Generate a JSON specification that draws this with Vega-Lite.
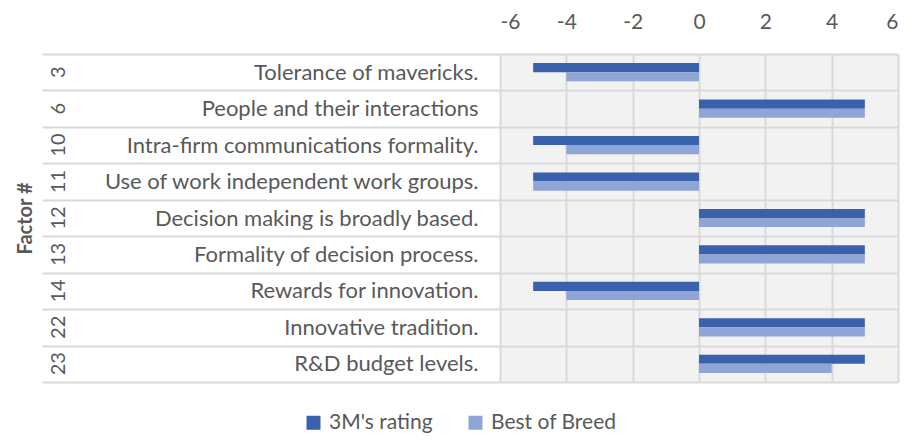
{
  "$schema": "https://vega.github.io/schema/vega-lite/v6.json",
  "width": 398,
  "height": 328,
  "autosize": {"type": "none"},
  "padding": {"left": 500, "top": 54, "right": 13, "bottom": 62},
  "background": "white",
  "config": {
    "font": "Lato",
    "view": {"stroke": null, "fill": "#f2f2f2"}
  },
  "data": {
    "values": [
      {"factor": "3", "name": "Tolerance of mavericks.", "series": "3M's rating", "value": -5},
      {"factor": "3", "name": "Tolerance of mavericks.", "series": "Best of Breed", "value": -4},
      {"factor": "6", "name": "People and their interactions", "series": "3M's rating", "value": 5},
      {"factor": "6", "name": "People and their interactions", "series": "Best of Breed", "value": 5},
      {"factor": "10", "name": "Intra-firm communications formality.", "series": "3M's rating", "value": -5},
      {"factor": "10", "name": "Intra-firm communications formality.", "series": "Best of Breed", "value": -4},
      {"factor": "11", "name": "Use of work independent work groups.", "series": "3M's rating", "value": -5},
      {"factor": "11", "name": "Use of work independent work groups.", "series": "Best of Breed", "value": -5},
      {"factor": "12", "name": "Decision making is broadly based.", "series": "3M's rating", "value": 5},
      {"factor": "12", "name": "Decision making is broadly based.", "series": "Best of Breed", "value": 5},
      {"factor": "13", "name": "Formality of decision process.", "series": "3M's rating", "value": 5},
      {"factor": "13", "name": "Formality of decision process.", "series": "Best of Breed", "value": 5},
      {"factor": "14", "name": "Rewards for innovation.", "series": "3M's rating", "value": -5},
      {"factor": "14", "name": "Rewards for innovation.", "series": "Best of Breed", "value": -4},
      {"factor": "22", "name": "Innovative tradition.", "series": "3M's rating", "value": 5},
      {"factor": "22", "name": "Innovative tradition.", "series": "Best of Breed", "value": 5},
      {"factor": "23", "name": "R&D budget levels.", "series": "3M's rating", "value": 5},
      {"factor": "23", "name": "R&D budget levels.", "series": "Best of Breed", "value": 4}
    ]
  },
  "layer": [
    {
      "mark": {"type": "bar"},
      "encoding": {
        "y": {
          "field": "name",
          "type": "nominal",
          "sort": ["Tolerance of mavericks.", "People and their interactions", "Intra-firm communications formality.", "Use of work independent work groups.", "Decision making is broadly based.", "Formality of decision process.", "Rewards for innovation.", "Innovative tradition.", "R&D budget levels."],
          "scale": {"paddingInner": 0, "paddingOuter": 0},
          "axis": {
            "title": null,
            "domain": false,
            "labelFontSize": 22,
            "labelColor": "#595959",
            "labelLimit": 0,
            "labelPadding": -436,
            "tickBand": "extent",
            "tickSize": 458,
            "tickColor": "#d9d9d9",
            "tickWidth": 2,
            "grid": true,
            "gridColor": "#d9d9d9",
            "gridWidth": 2
          }
        },
        "yOffset": {
          "field": "series",
          "type": "nominal",
          "sort": ["3M's rating", "Best of Breed"],
          "scale": {"paddingInner": 0, "paddingOuter": 1.28}
        },
        "x": {
          "field": "value",
          "type": "quantitative",
          "scale": {"domain": [-6, 6]},
          "axis": {
            "orient": "top",
            "values": [-6, -4, -2, 0, 2, 4, 6],
            "labelExpr": "'' + datum.value",
            "title": null,
            "domain": false,
            "ticks": false,
            "labelFontSize": 21,
            "labelColor": "#595959",
            "labelPadding": 22,
            "grid": true,
            "gridColor": "#d9d9d9",
            "gridWidth": 2
          }
        },
        "color": {
          "field": "series",
          "type": "nominal",
          "sort": ["3M's rating", "Best of Breed"],
          "scale": {"range": ["#3A62AC", "#8FA5D6"]},
          "legend": {
            "title": null,
            "orient": "none",
            "direction": "horizontal",
            "legendX": -197,
            "legendY": 358,
            "symbolType": "square",
            "symbolSize": 196,
            "symbolStrokeWidth": 0,
            "labelFontSize": 21,
            "labelColor": "#595959",
            "labelOffset": 5,
            "columnPadding": 32
          }
        }
      }
    },
    {
      "mark": {"type": "bar", "opacity": 0},
      "encoding": {
        "y": {
          "field": "factor",
          "type": "nominal",
          "sort": ["3", "6", "10", "11", "12", "13", "14", "22", "23"],
          "scale": {"paddingInner": 0, "paddingOuter": 0},
          "axis": {
            "orient": "left",
            "title": "Factor #",
            "domain": false,
            "ticks": false,
            "tickSize": 0,
            "grid": false,
            "labelAngle": 270,
            "labelAlign": "center",
            "labelBaseline": "middle",
            "labelPadding": 442,
            "labelFontSize": 20,
            "labelColor": "#595959",
            "titleFontSize": 20,
            "titleFontWeight": "bold",
            "titleColor": "#595959",
            "titleAngle": 270,
            "titleAlign": "center",
            "titleBaseline": "middle",
            "titleX": -475,
            "titleY": 164
          }
        },
        "x": {"field": "value", "type": "quantitative"}
      }
    }
  ],
  "resolve": {"scale": {"y": "independent"}, "axis": {"y": "independent"}}
}
